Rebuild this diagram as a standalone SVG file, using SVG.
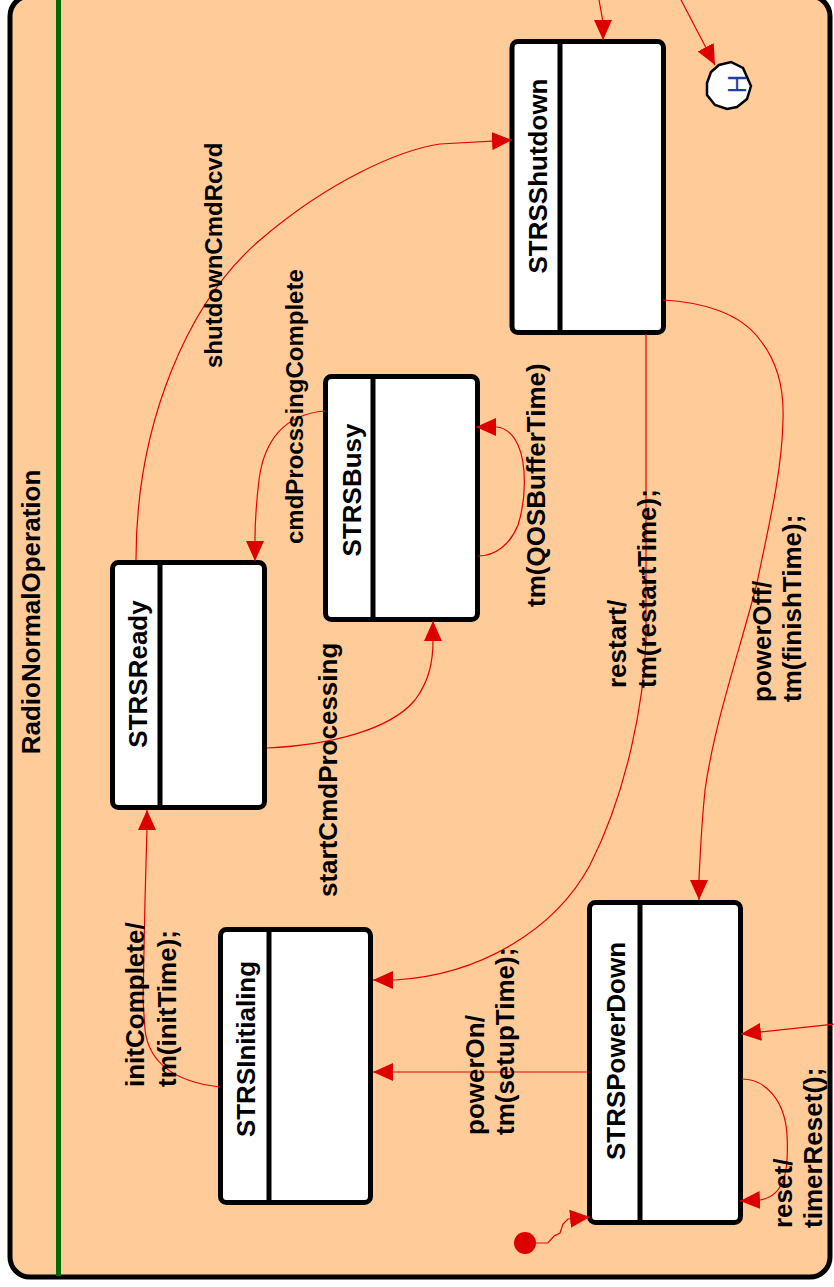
<svg xmlns="http://www.w3.org/2000/svg" width="834" height="1287" viewBox="0 0 834 1287">
  <defs>
    <marker id="arrow" markerUnits="userSpaceOnUse" markerWidth="20" markerHeight="18" viewBox="0 0 20 18" refX="20" refY="9" orient="auto">
      <path d="M0,0 L20,9 L0,18 z" fill="#dd0000"/>
    </marker>
    <style>
      .frame { fill: #ffcc99; stroke: #000; stroke-width: 5; }
      .lane { stroke: #006b00; stroke-width: 5; }
      .box { fill: #fff; stroke: #000; stroke-width: 5; }
      .div { stroke: #000; stroke-width: 5; }
      .name { font-family: "Liberation Sans", Arial, sans-serif; font-weight: bold; font-size: 26px; fill: #000; text-anchor: middle; }
      .title { font-family: "Liberation Sans", Arial, sans-serif; font-weight: bold; font-size: 26px; fill: #000; text-anchor: middle; }
      .lbl { font-family: "Liberation Sans", Arial, sans-serif; font-weight: bold; font-size: 26px; fill: #000; }
      .lbl.small { font-size: 24px; }
      .tr { fill: none; stroke: #e60000; stroke-width: 1.2; marker-end: url(#arrow); }
      .hist { fill: #fff; stroke: #000; stroke-width: 2.5; }
      .htext { font-family: "Liberation Sans", Arial, sans-serif; font-size: 26px; fill: #1f3f9f; text-anchor: middle; }
    </style>
  </defs>

  <!-- composite state frame -->
  <g id="RadioNormalOperation">
    <rect class="frame" x="10" y="-4" width="820" height="1281" rx="20"/>
    <line class="lane" x1="58.5" y1="0" x2="58.5" y2="1276"/>
    <text class="title" transform="translate(40,612) rotate(-90)">RadioNormalOperation</text>
  </g>

  <!-- states -->
  <g id="STRSShutdown">
    <rect class="box" x="512" y="41.5" width="151.5" height="291" rx="6"/>
    <line class="div" x1="560" y1="41.5" x2="560" y2="332.5"/>
    <text class="name" transform="translate(546.5,176) rotate(-90)">STRSShutdown</text>
  </g>
  <g id="STRSBusy">
    <rect class="box" x="325.5" y="376.5" width="152" height="243" rx="6"/>
    <line class="div" x1="373" y1="376.5" x2="373" y2="619.5"/>
    <text class="name" transform="translate(361,490) rotate(-90)">STRSBusy</text>
  </g>
  <g id="STRSReady">
    <rect class="box" x="112.5" y="562.5" width="152" height="245" rx="6"/>
    <line class="div" x1="160" y1="562.5" x2="160" y2="807.5"/>
    <text class="name" transform="translate(147,674) rotate(-90)">STRSReady</text>
  </g>
  <g id="STRSInitialing">
    <rect class="box" x="220.5" y="929.5" width="150" height="273" rx="6"/>
    <line class="div" x1="269" y1="929.5" x2="269" y2="1202.5"/>
    <text class="name" transform="translate(255,1049) rotate(-90)">STRSInitialing</text>
  </g>
  <g id="STRSPowerDown">
    <rect class="box" x="589.5" y="902.5" width="151" height="320" rx="6"/>
    <line class="div" x1="640" y1="902.5" x2="640" y2="1222.5"/>
    <text class="name" transform="translate(625,1051) rotate(-90)">STRSPowerDown</text>
  </g>
  <g id="history">
    <polygon class="hist" points="751,86 747,99 737,107 727,109 715,105 707,95 707,83 711,72 719,65 731,62 743,68"/>
    <text class="htext" transform="translate(746,84) rotate(-90)">H</text>
  </g>
  <g id="initial">
    <circle cx="525" cy="1243" r="11" fill="#dd0000"/>
  </g>

  <!-- transitions -->
  <g id="connectors">
    <path class="tr" d="M536,1243 L548,1243 L554,1236 L560,1233 L563,1224 L568,1219 L590,1217"/>
    <path class="tr" d="M587,1072 L373,1072"/>
    <path class="tr" d="M646,334 L646,640 C644,700 628,790 590,865 C555,930 480,975 395,980 L373,980"/>
    <path class="tr" d="M663,300 C700,302 740,312 760,340 C780,365 784,395 783,420 C782,470 770,520 757,583 C740,650 715,720 705,790 C701,830 700,860 699,878 L699,900"/>
    <path class="tr" d="M220,1087 C185,1083 150,1070 145,1030 L143,1000 L145,900 L147,828 L147,810"/>
    <path class="tr" d="M136,560 C136,420 190,300 260,240 C330,180 400,150 440,144 L512,140"/>
    <path class="tr" d="M267,748 C330,745 390,730 415,700 C430,680 433,660 433,640 L433,621"/>
    <path class="tr" d="M325,411 C285,414 264,440 259,480 C256,505 255,525 255,540 L255,561"/>
    <path class="tr" d="M478,556 C495,556 510,545 518,525 C526,500 527,465 518,445 C512,432 505,428 497,427 L476,427"/>
    <path class="tr" d="M599,0 L603,22 L603,40"/>
    <path class="tr" d="M680,-2 L715,65"/>
    <path class="tr" d="M836,1024 L741,1034"/>
    <path class="tr" d="M742,1079 C765,1079 785,1100 787,1135 C789,1170 785,1196 760,1200 L740,1201"/>
  </g>

  <!-- transition labels -->
  <g id="labels">
    <text class="lbl small" transform="translate(222,368) rotate(-90)">shutdownCmdRcvd</text>
    <text class="lbl small" transform="translate(303,544) rotate(-90)">cmdProcssingComplete</text>
    <text class="lbl" transform="translate(337,897) rotate(-90)">startCmdProcessing</text>
    <text class="lbl" transform="translate(545,607) rotate(-90)">tm(QOSBufferTime)</text>
    <text class="lbl" transform="translate(626,688) rotate(-90)">restart/<tspan x="0" y="30">tm(restartTime);</tspan></text>
    <text class="lbl" transform="translate(771,702) rotate(-90)">powerOff/<tspan x="0" y="30">tm(finishTime);</tspan></text>
    <text class="lbl" transform="translate(144,1087) rotate(-90)">initComplete/<tspan x="0" y="32">tm(initTime);</tspan></text>
    <text class="lbl" transform="translate(484,1135) rotate(-90)">powerOn/<tspan x="0" y="30">tm(setupTime);</tspan></text>
    <text class="lbl" transform="translate(792,1228) rotate(-90)">reset/<tspan x="0" y="30">timerReset();</tspan></text>
  </g>
</svg>
